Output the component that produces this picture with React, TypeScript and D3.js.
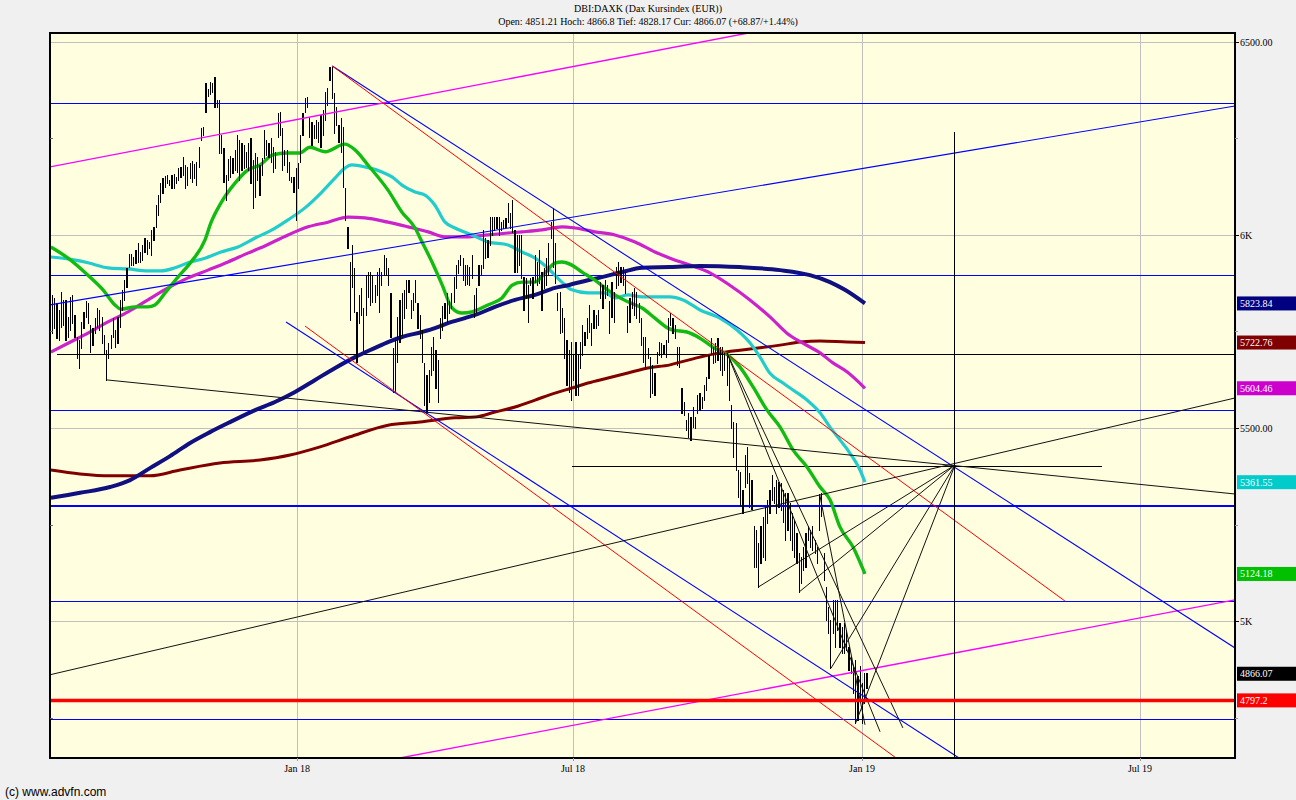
import React from "react";
import * as d3 from "d3";

// ---------- DATA ----------
// daily bars, trading-day index 0..361 (Jul 2017 .. Jan 2019)
const highs = [
  5846,5838,5824,5807,5854,5833,5833,5790,5841,5846,
  5794,5738,5729,5777,5802,5829,5824,5768,5760,5786,
  5811,5807,5790,5742,5703,5721,5742,5786,5755,5790,
  5833,5859,5884,5915,5953,5953,5945,5962,5979,5958,
  5975,5992,5988,5984,6014,6022,6078,6104,6135,6147,
  6153,6156,6143,6156,6159,6152,6173,6178,6203,6182,
  6178,6188,6193,6185,6190,6228,6277,6279,6393,6378,
  6397,6393,6409,6350,6350,6260,6225,6156,6197,6205,
  6199,6221,6260,6247,6238,6234,6216,6238,6251,6195,
  6212,6203,6182,6199,6272,6247,6238,6251,6229,6216,
  6316,6320,6277,6221,6221,6190,6152,6152,6173,6186,
  6260,6316,6354,6359,6307,6294,6285,6298,6294,6311,
  6324,6371,6380,6436,6436,6367,6333,6285,6303,6281,
  6122,6022,5932,5975,5915,5803,5846,5863,5811,5897,
  5906,5906,5897,5871,5906,5915,5906,5949,5941,5915,
  5850,5708,5729,5790,5833,5850,5859,5884,5884,5833,
  5850,5884,5824,5794,5755,5669,5639,5652,5712,5738,
  5703,5678,5786,5816,5824,5850,5829,5850,5893,5923,
  5936,5949,5941,
  5923,5923,5919,5949,5846,5863,5923,5923,6014,5992,
  5988,6048,6048,6048,6048,6048,6035,6040,6044,6083,
  6057,6091,6014,6001,6001,6001,5893,5889,5871,5889,
  5893,5949,5932,5962,5906,5915,5941,5979,6035,6070,
  5979,5850,5854,5811,5786,5729,5703,5725,5690,5725,
  5690,5725,5768,5751,5786,5820,5772,5807,5794,5807,
  5880,5871,5884,5871,5829,5880,5854,5919,5932,5919,
  5919,5906,5816,5837,5854,5863,5854,5824,5786,5738,
  5738,5708,5686,5665,5643,5699,5725,5721,5716,5729,5786,
  5798,5786,5768,5712,5712,5604,5570,5522,5540,5531,
  5557,5531,5587,5591,5583,5613,5634,5690,5734,5712,
  5721,5734,5712,5712,5699,5695,5682,5561,5518,5514,
  5393,5389,5341,5432,5453,5385,5367,5247,5238,5204,
  5247,5272,5298,5316,5341,5380,5350,5367,5363,5359,
  5341,5333,5333,5307,5281,5264,5229,5178,5169,5195,
  5229,5247,5238,5247,5212,5195,5331,5333,5178,5091,
  5040,5005,5057,5057,5057,4997,4988,4997,4979,4936,
  4910,4885,4902,4859,4885,4842,4868,4867
];
const lows = [
  5747,5760,5734,5729,5764,5768,5729,5738,5755,5772,
  5738,5682,5656,5708,5760,5790,5772,5699,5716,5747,
  5764,5755,5721,5695,5626,5682,5708,5738,5712,5721,
  5764,5807,5833,5867,5919,5923,5923,5928,5932,5932,
  5936,5958,5953,5967,5949,5988,6022,6053,6087,6109,
  6126,6135,6130,6122,6122,6135,6143,6152,6156,6122,
  6130,6147,6139,6147,6130,6178,6247,6260,6320,6360,
  6365,6371,6333,6333,6212,6212,6139,6091,6143,6152,
  6160,6169,6165,6143,6169,6173,6178,6169,6135,6070,
  6100,6143,6104,6156,6199,6208,6203,6190,6165,6173,
  6255,6260,6169,6182,6165,6143,6139,6113,6040,6122,
  6190,6260,6320,6333,6255,6234,6251,6251,6242,6229,
  6260,6298,6337,6402,6354,6264,6285,6242,6216,6126,
  6040,5966,5781,5867,5803,5673,5772,5794,5703,5794,
  5841,5820,5828,5828,5846,5803,5871,5897,5897,5871,
  5738,5596,5596,5673,5725,5742,5786,5811,5854,5786,
  5807,5828,5760,5734,5673,5561,5540,5570,5639,5652,
  5604,5570,5734,5755,5786,5777,5799,5811,5828,5863,
  5902,5923,5884,
  5871,5875,5871,5889,5790,5803,5871,5897,5915,5941,
  5945,5975,6001,6014,6018,6001,6014,6018,6022,6035,
  6018,6009,5906,5906,5923,5889,5807,5837,5777,5871,
  5837,5880,5871,5876,5807,5863,5871,5897,5992,5919,
  5876,5807,5747,5751,5683,5613,5596,5574,5626,5587,
  5587,5656,5690,5716,5734,5751,5716,5760,5760,5768,
  5837,5811,5837,5846,5747,5790,5777,5863,5871,5880,
  5871,5850,5751,5777,5811,5794,5786,5777,5716,5673,
  5660,5682,5583,5591,5587,5669,5690,5686,5695,5686,5725,
  5768,5747,5734,5665,5660,5540,5535,5497,5479,5471,
  5505,5501,5540,5548,5553,5574,5600,5630,5695,5669,
  5673,5678,5652,5639,5652,5613,5574,5501,5427,5393,
  5324,5303,5281,5350,5359,5298,5293,5143,5143,5091,
  5152,5169,5160,5255,5281,5316,5307,5281,5298,5290,
  5259,5212,5238,5212,5186,5169,5152,5078,5100,5134,
  5143,5212,5195,5186,5178,5152,5238,5273,5109,5005,
  4971,4880,4971,4936,4979,4936,4919,4919,4928,4876,
  4868,4816,4739,4747,4798,4739,4790,4828
];

// moving averages: [day, value]
const maGreen = [[-0.7,5970],[6.9,5941],[15.7,5897],[22.4,5859],[27.7,5820],[30.4,5809],[36.6,5815],[42.3,5815],[45.4,5820],[49.9,5851],[55.6,5892],[61.4,5931],[67.6,5988],[70.2,6032],[74.7,6084],[80.9,6135],[86.6,6169],[92.0,6182],[97.7,6208],[103.9,6213],[109.7,6213],[114.1,6228],[120.8,6216],[129.6,6236],[134.1,6221],[139.8,6182],[148.7,6117],[154.9,6060],[160.7,6019],[163.8,5983],[168.2,5931],[172.7,5872],[177.1,5812],[181.5,5799],[185.9,5802],[193.0,5820],[199.2,5838],[203.7,5871],[208.1,5879],[213.9,5879],[218.3,5903],[222.7,5928],[225.8,5931],[230.2,5923],[234.7,5905],[240.4,5884],[244.9,5864],[249.3,5846],[255.0,5828],[261.3,5812],[267.0,5786],[272.8,5760],[275.0,5755],[281.2,5750],[287.0,5734],[292.7,5711],[299.4,5690],[304.7,5659],[310.5,5608],[316.7,5548],[322.5,5504],[328.2,5445],[334.4,5401],[340.2,5349],[344.6,5316],[349.0,5246],[354.8,5194],[360.1,5124.18]];
const maCyan = [[-0.7,5944],[6.9,5939],[15.7,5929],[24.6,5916],[33.5,5913],[42.3,5908],[48.1,5908],[54.3,5916],[60.1,5929],[67.6,5941],[74.7,5957],[82.2,5970],[89.8,5993],[97.3,6014],[104.4,6040],[111.9,6071],[119.4,6112],[125.2,6148],[129.6,6174],[132.7,6182],[138.5,6177],[146.0,6164],[150.5,6151],[154.9,6130],[160.7,6112],[165.1,6104],[169.5,6078],[174.0,6034],[178.4,6019],[185.9,6001],[193.0,5983],[201.9,5975],[208.1,5957],[213.9,5941],[219.6,5915],[225.8,5879],[230.2,5859],[237.3,5851],[244.9,5851],[249.3,5838],[255.0,5846],[261.3,5841],[267.0,5841],[273.7,5841],[279.5,5833],[287.0,5807],[295.8,5786],[303.4,5755],[309.1,5722],[313.6,5685],[318.0,5643],[323.8,5618],[328.2,5600],[334.4,5574],[340.2,5541],[344.6,5504],[349.0,5471],[353.4,5437],[357.9,5393],[360.1,5361.55]];
const maMagenta = [[-0.7,5698],[6.9,5721],[15.7,5747],[24.6,5776],[33.5,5802],[42.3,5833],[51.2,5864],[60.1,5890],[68.9,5910],[77.8,5931],[86.6,5954],[92.0,5967],[104.4,6001],[113.3,6022],[122.1,6034],[131.0,6047],[138.5,6045],[148.7,6034],[157.6,6022],[166.5,6009],[174.0,5996],[182.8,5996],[193.0,6001],[201.9,6006],[208.1,6009],[217.0,6014],[225.8,6022],[231.6,6019],[240.4,6009],[249.3,6001],[258.2,5983],[267.0,5957],[273.7,5941],[282.5,5923],[291.4,5903],[300.2,5871],[309.1,5833],[318.0,5789],[325.5,5747],[332.6,5721],[340.2,5696],[345.9,5670],[352.1,5647],[360.1,5604.46]];
const maNavy = [[-0.7,5321],[12.2,5334],[25.5,5349],[34.4,5367],[43.2,5398],[52.1,5429],[61.0,5463],[69.8,5491],[78.7,5517],[89.8,5548],[98.6,5569],[107.5,5595],[116.4,5626],[125.3,5657],[134.1,5685],[143.0,5709],[148.7,5724],[154.9,5737],[163.8,5750],[169.5,5760],[175.3,5773],[182.8,5786],[187.3,5794],[196.1,5815],[205.0,5833],[213.9,5846],[222.7,5864],[228.5,5871],[237.3,5884],[243.5,5892],[252.4,5905],[261.3,5916],[273.7,5918],[287.0,5921],[304.7,5918],[322.5,5910],[335.7,5897],[344.6,5879],[351.2,5859],[360.1,5823.84]];
const maMaroon = [[-0.7,5393],[12.2,5383],[25.5,5378],[43.2,5378],[56.5,5393],[74.2,5411],[92.0,5419],[105.3,5432],[118.6,5453],[131.9,5479],[148.7,5509],[162.9,5517],[178.4,5528],[187.3,5530],[196.1,5543],[205.0,5556],[213.9,5574],[222.7,5592],[230.2,5605],[237.3,5618],[246.2,5631],[255.0,5644],[263.9,5657],[273.7,5665],[278.2,5672],[287.0,5685],[295.8,5696],[304.7,5703],[313.6,5709],[322.5,5716],[331.3,5724],[340.2,5727],[352.1,5724],[360.1,5722.76]];

// horizontal levels (price)
const blueLevels = [6342, 5895, 5546, 5054, 4749];
const blueThickLevels = [5300];
const redLevels = [4797.2];
const blackLevelFromDay = [[2, 5693]];
const blackSegment = [[230.2, 465.1, 5401]];
const blackVertical = [[400, 6267]];

// trend lines: [day1, price1, day2, price2]
const magentaTrends = [[-1.1, 6177.2, 308.3, 6523.3], [154.0, 4648.2, 524.1, 5057]];
const blueTrends = [[-1.1, 5820, 524.1, 6334.5], [124.0, 6438, 524.1, 4932.7], [103.5, 5776, 401.8, 4648.2]];
const redTrends = [[124.0, 6438, 448.7, 5054.3], [111.9, 5765.5, 373.9, 4648.2]];
const blackTrends = [
  [24.2, 5626, 524.1, 5331],
  [-1.1, 4863.5, 524.1, 5579.3],
  [313, 5091, 400, 5406],
  [331, 5078, 400, 5406],
  [345, 4880, 400, 5406],
  [356, 4739, 400, 5406],
  [299, 5695, 366.8, 4716],
  [299, 5695, 376.9, 4726],
  [340, 5331, 360.1, 4734]
];

// axes
const yTickValues = [6500, 6000, 5500, 5000];
const yTickLabels = ["6500.00", "6K", "5500.00", "5K"];
const yMinorTicks = [6250, 5750, 5250, 4750];
const xTickDays = [108.4, 230.7, 358.8, 482.0];
const xTickLabels = ["Jan 18", "Jul 18", "Jan 19", "Jul 19"];

// right value labels
const labelValues = [5823.84, 5722.76, 5604.46, 5361.55, 5124.18, 4866.07, 4797.2];
const labelTexts = ["5823.84", "5722.76", "5604.46", "5361.55", "5124.18", "4866.07", "4797.2"];
const labelColors = ["#000080", "#800000", "#CC00CC", "#00CCCC", "#00C000", "#000000", "#FF0000"];

const titleLine1 = "DBI:DAXK (Dax Kursindex (EUR))";
const titleLine2 = "Open: 4851.21 Hoch: 4866.8 Tief: 4828.17 Cur: 4866.07 (+68.87/+1.44%)";
const footer = "(c) www.advfn.com";

// ---------- CHART ----------
const L = 50, R = 1235, T = 33, B = 758;

export default function App() {
  const x = d3.scaleLinear().domain([-1.1, 524.1]).range([L, R]);
  const y = d3.scaleLinear().domain([4648.2, 6523.3]).range([B, T]);
  const line = d3.line<number[]>().x(d => x(d[0])).y(d => y(d[1])).curve(d3.curveMonotoneX);
  const serif = "'Liberation Serif', 'Times New Roman', serif";

  const mas: [number[][], string, number][] = [
    [maMaroon, "#800000", 3],
    [maMagenta, "#CC22CC", 3.2],
    [maCyan, "#22CCCC", 3.2],
    [maNavy, "#101080", 4],
    [maGreen, "#11BB11", 3.4],
  ];

  const seg = (t: number[], color: string, w: number, k: string) => (
    <line key={k} x1={x(t[0])} y1={y(t[1])} x2={x(t[2])} y2={y(t[3])} stroke={color} strokeWidth={w} />
  );

  return (
    <svg width={1296} height={800} style={{ position: "absolute", left: 0, top: 0, display: "block" }} fontFamily={serif}>
      <rect x={0} y={0} width={1296} height={800} fill="#F0F0F0" />
      <defs>
        <clipPath id="plotClip">
          <rect x={L} y={T} width={R - L} height={B - T} />
        </clipPath>
      </defs>
      <rect x={L} y={T} width={R - L} height={B - T} fill="#FFFFE0" />

      <g clipPath="url(#plotClip)">
        {/* grid */}
        <g shapeRendering="crispEdges" stroke="#C0C0C0" strokeWidth={1}>
          {yTickValues.map((v, i) => <line key={"gy" + i} x1={L} x2={R} y1={y(v)} y2={y(v)} />)}
          {xTickDays.map((d, i) => <line key={"gx" + i} x1={x(d)} x2={x(d)} y1={T} y2={B} />)}
        </g>
        {/* horizontal levels */}
        <g shapeRendering="crispEdges">
          {blueLevels.map((v, i) => <line key={"bl" + i} x1={L} x2={R} y1={y(v)} y2={y(v)} stroke="#0000FF" strokeWidth={1} />)}
          {blueThickLevels.map((v, i) => <line key={"bt" + i} x1={L} x2={R} y1={y(v)} y2={y(v)} stroke="#0000FF" strokeWidth={2} />)}
          {blackLevelFromDay.map((d, i) => <line key={"bk" + i} x1={x(d[0])} x2={R} y1={y(d[1])} y2={y(d[1])} stroke="#000" strokeWidth={1} />)}
          {blackSegment.map((d, i) => <line key={"bs" + i} x1={x(d[0])} x2={x(d[1])} y1={y(d[2])} y2={y(d[2])} stroke="#000" strokeWidth={1} />)}
        </g>
        {/* moving averages */}
        {mas.map(([data, color, w], i) => (
          <path key={"ma" + i} d={line(data) || ""} fill="none" stroke={color} strokeWidth={w} strokeLinejoin="round" />
        ))}
        {/* bars */}
        <g stroke="#000" strokeWidth={1.2} shapeRendering="crispEdges">
          {highs.map((h, i) => (
            <line key={"bar" + i} x1={x(i)} x2={x(i)} y1={y(h)} y2={y(lows[i]) + 1} />
          ))}
        </g>
        {/* trend lines */}
        {magentaTrends.map((t, i) => seg(t, "#FF00FF", 1.3, "mt" + i))}
        {blueTrends.map((t, i) => seg(t, "#0000FF", 1.1, "bt2" + i))}
        {redTrends.map((t, i) => seg(t, "#FF0000", 1, "rt" + i))}
        {blackTrends.map((t, i) => seg(t, "#111", 1, "kt" + i))}
        <g shapeRendering="crispEdges">
          {blackVertical.map((d, i) => <line key={"kv" + i} x1={x(d[0])} x2={x(d[0])} y1={y(d[1])} y2={B} stroke="#000" strokeWidth={1} />)}
        </g>
        {redLevels.map((v, i) => <line key={"rl" + i} x1={L} x2={R} y1={y(v)} y2={y(v)} stroke="#FF0000" strokeWidth={3.5} />)}
      </g>

      {/* frame */}
      <rect x={L} y={T} width={R - L} height={B - T} fill="none" stroke="#000" strokeWidth={1.5} shapeRendering="crispEdges" />

      {/* y axis */}
      <g shapeRendering="crispEdges">
        {yTickValues.map((v, i) => <line key={"yt" + i} x1={R} x2={R + 4} y1={y(v)} y2={y(v)} stroke="#000" />)}
        {yMinorTicks.map((v, i) => <line key={"ym" + i} x1={R} x2={R + 3} y1={y(v)} y2={y(v)} stroke="#999" />)}
        {yMinorTicks.map((v, i) => <line key={"yl" + i} x1={L} x2={L + 3} y1={y(v)} y2={y(v)} stroke="#666" />)}
        {xTickDays.map((d, i) => <line key={"xt" + i} x1={x(d)} x2={x(d)} y1={B} y2={B + 3} stroke="#999" />)}
      </g>
      {yTickValues.map((v, i) => (
        <text key={"ytl" + i} x={R + 5} y={y(v) + 3.5} fontSize={10} fill="#000">{yTickLabels[i]}</text>
      ))}
      {xTickDays.map((d, i) => (
        <text key={"xtl" + i} x={x(d)} y={772} fontSize={10} textAnchor="middle" fill="#000">{xTickLabels[i]}</text>
      ))}

      {/* value labels */}
      {labelValues.map((v, i) => (
        <g key={"lab" + i}>
          <rect x={R + 2} y={y(v) - 7} width={1296 - R - 2} height={14} fill={labelColors[i]} />
          <text x={R + 5} y={y(v) + 3.5} fontSize={10} fill="#FFF">{labelTexts[i]}</text>
        </g>
      ))}

      {/* titles */}
      <text x={648} y={12} fontSize={10} textAnchor="middle" fill="#000">{titleLine1}</text>
      <text x={648} y={25} fontSize={10} textAnchor="middle" fill="#000">{titleLine2}</text>
      <text x={5} y={796} fontSize={12} fontFamily="'Liberation Sans', Arial, sans-serif" fill="#000">{footer}</text>
    </svg>
  );
}
